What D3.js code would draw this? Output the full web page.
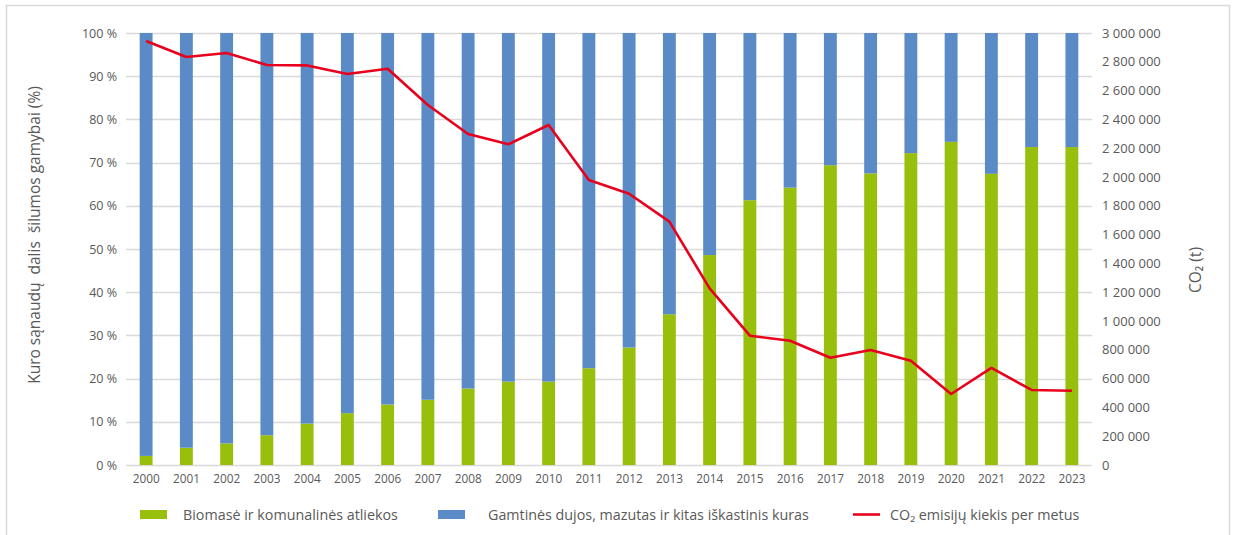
<!DOCTYPE html>
<html>
<head>
<meta charset="utf-8">
<script src="https://cdn.jsdelivr.net/npm/d3@7"></script>
<style>
    body { margin: 0; background: #fff; }
    text { font-family: "Open Sans", sans-serif; fill: #595959; }
</style>
</head>
<body>
<svg id="svg1"></svg>
<script>
// data
const years = ["2000", "2001", "2002", "2003", "2004", "2005", "2006", "2007", "2008", "2009", "2010", "2011",
    "2012", "2013", "2014", "2015", "2016", "2017", "2018", "2019", "2020", "2021", "2022", "2023"];
const biomass = [2.1, 4.0, 5.0, 6.9, 9.6, 12.0, 14.0, 15.1, 17.7, 19.3, 19.3, 22.4,
    27.2, 34.9, 48.6, 61.3, 64.2, 69.4, 67.5, 72.2, 74.8, 67.4, 73.6, 73.6];
const fossil = biomass.map(function (d) { return 100 - d; });
const co2 = [2945000, 2833000, 2861000, 2778000, 2775000, 2715000, 2752000, 2500000, 2299000, 2227000, 2361000, 1979000,
    1884000, 1690000, 1227000, 898000, 863000, 745000, 799000, 724000, 493000, 674000, 521000, 516000];
const leftTicks = [0, 10, 20, 30, 40, 50, 60, 70, 80, 90, 100];
const rightTicks = d3.range(0, 3000001, 200000);
const legendLabels = ["Biomasė ir komunalinės atliekos", "Gamtinės dujos, mazutas ir kitas iškastinis kuras", "CO₂ emisijų kiekis per metus"];

const width = 1235;
const height = 535;
const plot = { left: 126, right: 1092, top: 33, bottom: 465 };

const green = "#98bf0c";
const blue = "#5a8bc7";
const red = "#e8001c";
const grid = "#d9d9d9";

const svg = d3.select("#svg1")
    .attr("width", width)
    .attr("height", height);

// outer frame
svg.append("path")
    .attr("d", "M6.5," + height + "V5.5H1229.5V" + height)
    .attr("fill", "none")
    .attr("stroke", "#d9d9d9")
    .attr("stroke-width", 1.5);

const x = d3.scaleBand()
    .domain(years)
    .range([plot.left, plot.right])
    .paddingInner(0.68)
    .paddingOuter(0.34);

const y = d3.scaleLinear()
    .domain([0, 100])
    .range([plot.bottom, plot.top]);

const y2 = d3.scaleLinear()
    .domain([0, 3000000])
    .range([plot.bottom, plot.top]);

const loc = d3.formatLocale({ decimal: ",", thousands: "\u00a0", grouping: [3], currency: ["", ""] });
const fmt = loc.format(",");

// gridlines
svg.append("g")
    .selectAll("line")
    .data(leftTicks)
    .join("line")
    .attr("x1", plot.left)
    .attr("x2", plot.right)
    .attr("y1", function (d) { return Math.round(y(d)) + 0.5; })
    .attr("y2", function (d) { return Math.round(y(d)) + 0.5; })
    .attr("stroke", grid)
    .attr("stroke-width", 1.3);

// left axis
const axL = svg.append("g")
    .attr("transform", "translate(" + plot.left + ",0)")
    .call(d3.axisLeft(y).tickValues(leftTicks).tickSize(0).tickPadding(9).tickFormat(function (d) { return d + " %"; }));
axL.select(".domain").remove();
axL.selectAll("text").style("font-size", "12.5px");

// right axis
const axR = svg.append("g")
    .attr("transform", "translate(" + plot.right + ",0)")
    .call(d3.axisRight(y2).tickValues(rightTicks).tickSize(0).tickPadding(10).tickFormat(fmt));
axR.select(".domain").remove();
axR.selectAll("text").style("font-size", "13px");

// bottom axis
const axB = svg.append("g")
    .attr("transform", "translate(0," + plot.bottom + ")")
    .call(d3.axisBottom(x).tickSize(0).tickPadding(10));
axB.select(".domain").remove();
axB.selectAll("text").style("font-size", "11.8px");

// stacked bars
svg.append("g")
    .selectAll("rect")
    .data(years)
    .join("rect")
    .attr("x", function (d) { return x(d); })
    .attr("width", x.bandwidth())
    .attr("y", function (d, i) { return y(biomass[i]); })
    .attr("height", function (d, i) { return y(0) - y(biomass[i]); })
    .attr("fill", green);

svg.append("g")
    .selectAll("rect")
    .data(years)
    .join("rect")
    .attr("x", function (d) { return x(d); })
    .attr("width", x.bandwidth())
    .attr("y", function (d, i) { return y(biomass[i] + fossil[i]); })
    .attr("height", function (d, i) { return y(biomass[i]) - y(biomass[i] + fossil[i]); })
    .attr("fill", blue);

// CO2 line
svg.append("path")
    .datum(co2)
    .attr("fill", "none")
    .attr("stroke", red)
    .attr("stroke-width", 2.6)
    .attr("stroke-linejoin", "round")
    .attr("d", d3.line()
        .x(function (d, i) { return x(years[i]) + x.bandwidth() / 2; })
        .y(function (d) { return y2(d); })
    );

// axis titles
svg.append("text")
    .attr("transform", "translate(40,235) rotate(-90)")
    .attr("text-anchor", "middle")
    .style("font-size", "15.5px")
    .text("Kuro sąnaudų  dalis  šilumos gamybai (%)")
    .attr("xml:space", "preserve");

svg.append("text")
    .attr("transform", "translate(1201,270) rotate(-90)")
    .attr("text-anchor", "middle")
    .style("font-size", "15.5px")
    .text("CO₂ (t)");

// legend
const legendX = [140, 438, 853];
const leg = svg.append("g");
leg.append("rect").attr("x", legendX[0]).attr("y", 510).attr("width", 27).attr("height", 9).attr("fill", green);
leg.append("rect").attr("x", legendX[1]).attr("y", 510).attr("width", 27).attr("height", 9).attr("fill", blue);
leg.append("line").attr("x1", legendX[2]).attr("x2", legendX[2] + 27).attr("y1", 514.5).attr("y2", 514.5)
    .attr("stroke", red).attr("stroke-width", 2.6);
leg.selectAll("text")
    .data(legendLabels)
    .join("text")
    .attr("x", function (d, i) { return legendX[i] + [43, 50, 37][i]; })
    .attr("y", 519.5)
    .style("font-size", "14.3px")
    .text(function (d) { return d; });
</script>
</body>
</html>
